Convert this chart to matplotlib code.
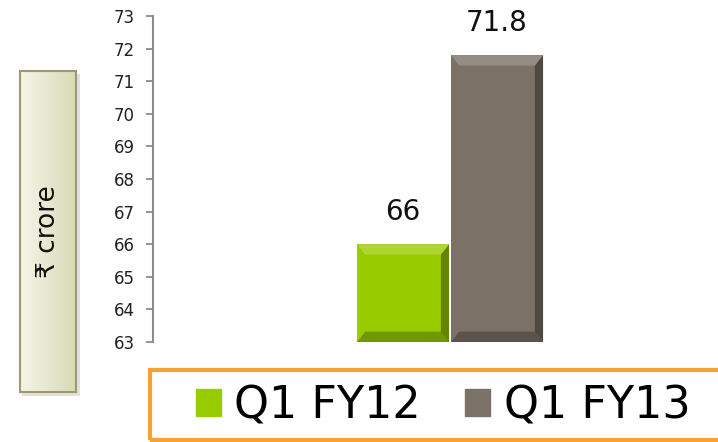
import matplotlib.pyplot as plt
import numpy as np
from matplotlib.patches import Rectangle
from matplotlib.colors import LinearSegmentedColormap

plt.rcParams['font.family'] = ['DejaVu Sans']

labels = ['Q1 FY12', 'Q1 FY13']
values = [66, 71.8]
colors = ['#99cc00', '#7b7166']
ytick_vals = list(range(63, 74))

W, H = 718, 442
fig = plt.figure(figsize=(W / 100, H / 100), dpi=100)

# main axes: y axis at x=153px, 63 at y=342px, 73 at y=16px
ax = fig.add_axes([153 / W, (H - 342) / H, (W - 153) / W, (342 - 16) / H])
xpos = np.array([-0.5, 0.5])
bars = ax.bar(xpos, values, width=0.98, color=colors, bottom=0)
ax.set_ylim(63, 73)
ax.set_xlim(-3.16, 2.85)
ax.set_yticks(ytick_vals)
ax.tick_params(axis='y', direction='out', length=5, width=1.3, color='#8c8c8c',
               labelsize=12, labelcolor='#222222', pad=8)
ax.set_xticks([])
for s in ['top', 'right', 'bottom']:
    ax.spines[s].set_visible(False)
ax.spines['left'].set_color('#8c8c8c')
ax.spines['left'].set_linewidth(1.5)

# simple bevel: darker right/bottom edges, lighter top/left
for b, v in zip(bars, values):
    x0, w, top = b.get_x(), b.get_width(), b.get_height()
    dx, dy = w * 0.09, 0.32
    base = 63
    ax.add_patch(plt.Polygon([[x0 + w, base], [x0 + w, top], [x0 + w - dx, top - dy],
                              [x0 + w - dx, base + dy]], color='black', alpha=0.35, lw=0))
    ax.add_patch(plt.Polygon([[x0, base], [x0 + w, base], [x0 + w - dx, base + dy],
                              [x0 + dx, base + dy]], color='black', alpha=0.25, lw=0))
    ax.add_patch(plt.Polygon([[x0, top], [x0 + w, top], [x0 + w - dx, top - dy],
                              [x0 + dx, top - dy]], color='white', alpha=0.2, lw=0))
    ax.text(x0 + w / 2, top + 0.55, f'{v:g}',
            ha='center', va='bottom', fontsize=20, color='#111111')

# y label box with gradient and a soft shadow behind it
shadow = Rectangle((22 / W, (H - 396) / H), 58 / W, (396 - 74) / H,
                   transform=fig.transFigure, color='#000000', alpha=0.12, lw=0, zorder=-5)
fig.patches.append(shadow)
lab_ax = fig.add_axes([20 / W, (H - 392) / H, 56 / W, (392 - 71) / H])
lab_ax.set_zorder(2)
grad = np.linspace(0, 1, 50).reshape(1, -1)
cm = LinearSegmentedColormap.from_list('g', ['#f4f5e8', '#d8dbb8'])
lab_ax.imshow(grad, aspect='auto', cmap=cm, extent=[0, 1, 0, 1])
lab_ax.set_xticks([])
lab_ax.set_yticks([])
for s in lab_ax.spines.values():
    s.set_color('#9b9b6b')
    s.set_linewidth(1.5)
lab_ax.text(0.5, 0.5, '₹ crore', rotation=90, ha='center', va='center',
            fontsize=19, color='#111111', transform=lab_ax.transAxes)

# legend with orange frame
fig.patches.append(Rectangle((150 / W, 2 / H), (760 - 150) / W, (72 - 2) / H,
                             transform=fig.transFigure, fill=False,
                             edgecolor='#f7a331', linewidth=3))
handles = [Rectangle((0, 0), 1, 1, color=c) for c in colors]
fig.legend(handles, labels, loc='center left', bbox_to_anchor=(196 / W, 36 / H),
           ncol=2, frameon=False, fontsize=32, handlelength=0.56, handleheight=0.56,
           handletextpad=0.3, columnspacing=1.0, borderpad=0, borderaxespad=0)

plt.savefig('out.png', dpi=100)
